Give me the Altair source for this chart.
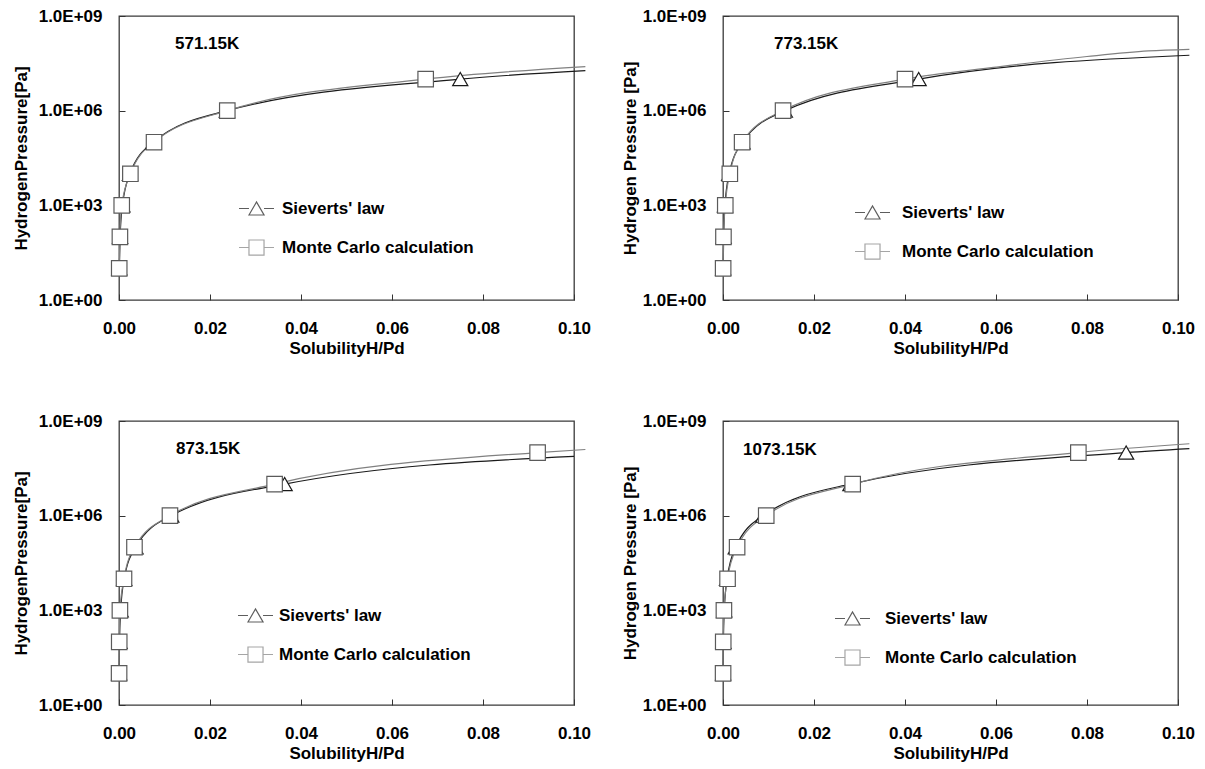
import altair as alt
import pandas as pd

FONT = "Liberation Sans"
SERIES = ["Sieverts' law", "Monte Carlo calculation"]

# ---- 571.15 K ----
sv571_x = [0.000075, 0.00024, 0.00075, 0.0024, 0.0075, 0.0237, 0.075]
sv571_y = [1e1, 1e2, 1e3, 1e4, 1e5, 1e6, 1e7]
sv571_tail_x = [0.1025]
sv571_tail_y = [1.85e7]
mc571_x = [0.00005, 0.0002, 0.0006, 0.0025, 0.0077, 0.0238, 0.0674]
mc571_y = [1e1, 1e2, 1e3, 1e4, 1e5, 1e6, 1e7]
mc571_tail_x = [0.1025]
mc571_tail_y = [2.5e7]

# ---- 773.15 K ----
sv773_x = [0.000043, 0.000136, 0.00043, 0.00136, 0.0043, 0.0136, 0.043]
sv773_y = [1e1, 1e2, 1e3, 1e4, 1e5, 1e6, 1e7]
sv773_tail_x = [0.1025]
sv773_tail_y = [5.7e7]
mc773_x = [0.00003, 0.0001, 0.0005, 0.0015, 0.0042, 0.0132, 0.040]
mc773_y = [1e1, 1e2, 1e3, 1e4, 1e5, 1e6, 1e7]
mc773_tail_x = [0.06, 0.08, 0.0935, 0.1025]
mc773_tail_y = [2.4e7, 5.2e7, 7.8e7, 8.8e7]

# ---- 873.15 K ----
sv873_x = [0.0000364, 0.000115, 0.000364, 0.00115, 0.00364, 0.0115, 0.0364]
sv873_y = [1e1, 1e2, 1e3, 1e4, 1e5, 1e6, 1e7]
sv873_tail_x = [0.1]
sv873_tail_y = [7.6e7]
mc873_x = [0.00002, 0.00005, 0.0002, 0.0011, 0.0034, 0.0112, 0.0342, 0.092]
mc873_y = [1e1, 1e2, 1e3, 1e4, 1e5, 1e6, 1e7, 1e8]
mc873_tail_x = [0.1025]
mc873_tail_y = [1.25e8]

# ---- 1073.15 K ----
sv1073_x = [0.000028, 0.0000886, 0.00028, 0.000886, 0.0028, 0.00886, 0.028, 0.0886]
sv1073_y = [1e1, 1e2, 1e3, 1e4, 1e5, 1e6, 1e7, 1e8]
sv1073_tail_x = [0.1025]
sv1073_tail_y = [1.34e8]
mc1073_x = [0.00002, 0.00005, 0.0002, 0.0010, 0.0031, 0.0095, 0.0285, 0.0781]
mc1073_y = [1e1, 1e2, 1e3, 1e4, 1e5, 1e6, 1e7, 1e8]
mc1073_tail_x = [0.1025]
mc1073_tail_y = [1.9e8]

x_ticks = [0.0, 0.02, 0.04, 0.06, 0.08, 0.10]
y_ticks = [1, 1e3, 1e6, 1e9]

SV_COLOR = "#1a1a1a"
MC_COLOR = "#808080"
W, H = 455, 284

TRI_PATH = "M-1,0H-0.43M0.43,0H1M-0.43,0.37L0,-0.37L0.43,0.37Z"
SQ_PATH = "M-1,0H-0.43M0.43,0H1M-0.43,-0.43H0.43V0.43H-0.43Z"


def panel(temp, sv_x, sv_y, sv_tx, sv_ty, mc_x, mc_y, mc_tx, mc_ty, ytitle, st):
    sv_pts = pd.DataFrame({"x": sv_x, "y": sv_y})
    mc_pts = pd.DataFrame({"x": mc_x, "y": mc_y})
    sv_line = pd.DataFrame({"x": sv_x + sv_tx, "y": sv_y + sv_ty})
    mc_line = pd.DataFrame({"x": mc_x + mc_tx, "y": mc_y + mc_ty})

    xenc = alt.X(
        "x:Q",
        scale=alt.Scale(domain=[0, 0.1], nice=False, zero=False),
        axis=alt.Axis(
            title="SolubilityH/Pd", values=x_ticks, format=".2f",
            offset=-6, tickSize=6, tickColor="#333", domain=False, grid=False,
            labelFlush=False, labelOverlap=False,
            labelPadding=st["xlabpad"], labelFont=FONT, labelFontSize=17,
            labelFontWeight="bold", labelColor="black",
            titleFont=FONT, titleFontSize=17, titleFontWeight="bold",
            titleColor="black", titlePadding=4,
        ),
    )
    yenc = alt.Y(
        "y:Q",
        scale=alt.Scale(type="log", domain=[1, 1e9], nice=False),
        axis=alt.Axis(
            title=ytitle, values=y_ticks,
            labelExpr="'1.0E+0' + format(round(log(datum.value)/LN10), 'd')",
            offset=-6, tickSize=6, tickColor="#333", domain=False, grid=False,
            labelFlush=False, labelOverlap=False,
            labelPadding=17, labelFont=FONT, labelFontSize=17,
            labelFontWeight="bold", labelColor="black",
            titleFont=FONT, titleFontSize=17, titleFontWeight="bold",
            titleColor="black", titlePadding=st["ytitlepad"],
        ),
    )

    l_sv = alt.Chart(sv_line).mark_line(
        color=SV_COLOR, strokeWidth=1.2, interpolate="monotone", clip=False
    ).encode(x=xenc, y=yenc)
    l_mc = alt.Chart(mc_line).mark_line(
        color=MC_COLOR, strokeWidth=1.2, interpolate="monotone", clip=False
    ).encode(x="x:Q", y="y:Q")
    p_sv = alt.Chart(sv_pts).mark_point(
        shape="triangle-up", size=230, filled=True, fill="white",
        stroke=SV_COLOR, strokeWidth=1.2, opacity=1
    ).encode(x="x:Q", y="y:Q")
    p_mc = alt.Chart(mc_pts).mark_point(
        shape="square", size=240, filled=True, fill="white",
        stroke="#5a5a5a", strokeWidth=1.2, opacity=1
    ).encode(x="x:Q", y="y:Q")

    leg = alt.Legend(
        title=None, orient="none", legendX=st["lx"], legendY=st["ly"],
        symbolSize=1225, symbolStrokeWidth=1.2, symbolFillColor="white",
        labelFont=FONT, labelFontSize=17, labelFontWeight="bold",
        labelColor="black", labelOffset=st["loff"], labelLimit=0,
        rowPadding=11, padding=0,
    )
    legend_df = pd.DataFrame({"series": SERIES})
    l_leg = alt.Chart(legend_df).mark_point(filled=False, strokeWidth=1.2).encode(
        stroke=alt.Stroke("series:N", scale=alt.Scale(domain=SERIES, range=[SV_COLOR, MC_COLOR]), legend=leg),
        shape=alt.Shape("series:N", scale=alt.Scale(domain=SERIES, range=[TRI_PATH, SQ_PATH]), legend=leg),
    ).transform_filter("false")

    return alt.layer(l_sv, l_mc, p_sv, p_mc, l_leg).properties(
        width=W, height=H,
        title=alt.TitleParams(
            text=temp, anchor="start", frame="group", offset=st["toff"],
            dx=st["tdx"], font=FONT, fontSize=17, fontWeight="bold", color="black",
        ),
    )


tl = panel("571.15K", sv571_x, sv571_y, sv571_tail_x, sv571_tail_y,
           mc571_x, mc571_y, mc571_tail_x, mc571_tail_y, "HydrogenPressure[Pa]",
           dict(lx=119, ly=174, loff=7, toff=-46, tdx=56, xlabpad=20, ytitlepad=8))
tr = panel("773.15K", sv773_x, sv773_y, sv773_tail_x, sv773_tail_y,
           mc773_x, mc773_y, mc773_tail_x, mc773_tail_y, "Hydrogen Pressure [Pa]",
           dict(lx=131, ly=178, loff=11, toff=-46, tdx=51, xlabpad=20, ytitlepad=3))
bl = panel("873.15K", sv873_x, sv873_y, sv873_tail_x, sv873_tail_y,
           mc873_x, mc873_y, mc873_tail_x, mc873_tail_y, "HydrogenPressure[Pa]",
           dict(lx=118, ly=176, loff=5, toff=-46, tdx=57, xlabpad=20, ytitlepad=8))
br = panel("1073.15K", sv1073_x, sv1073_y, sv1073_tail_x, sv1073_tail_y,
           mc1073_x, mc1073_y, mc1073_tail_x, mc1073_tail_y, "Hydrogen Pressure [Pa]",
           dict(lx=111, ly=179, loff=14, toff=-47, tdx=20, xlabpad=20, ytitlepad=3))


def ind(c):
    return c.resolve_scale(stroke="independent", shape="independent").resolve_legend(
        stroke="independent", shape="independent")


top = ind(alt.hconcat(tl, tr, spacing=28))
bottom = ind(alt.hconcat(bl, br, spacing=28))
chart = ind(alt.vconcat(top, bottom, spacing=54)).properties(
    padding={"left": 11, "top": 6, "right": 5, "bottom": 5},
    background="white",
).configure_view(stroke="#3a3a3a", strokeWidth=1.3)

chart.save("out.html", embed_options={"renderer": "svg", "actions": False})
